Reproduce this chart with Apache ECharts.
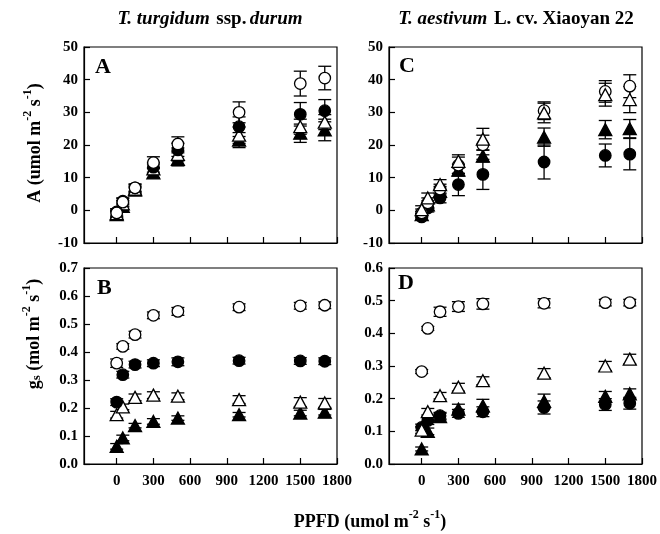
<!DOCTYPE html>
<html>
<head>
<meta charset="utf-8">
<script src="https://cdn.jsdelivr.net/npm/echarts@6/dist/echarts.min.js"></script>
<style>
  html, body { margin: 0; padding: 0; background: #fff; }
  #chart { width: 660px; height: 534px; }
</style>
</head>
<body>
<div id="chart"></div>
<script>
// Light levels (PPFD, umol m-2 s-1)
const ppfd = [0, 50, 150, 300, 500, 1000, 1500, 1700];
const xTicks = [0, 300, 600, 900, 1200, 1500, 1800];

// Panel A: net photosynthesis, T. turgidum ssp. durum
const durumA_openCircle     = [-0.8, 2.5, 6.9, 14.6, 20.3, 30.0, 38.8, 40.5];
const durumA_openCircleErr  = [1.2, 1.2, 1.2, 1.8, 2.2, 3.2, 3.8, 3.6];
const durumA_fillCircle     = [-0.5, 2.8, 6.9, 13.2, 18.5, 25.6, 29.4, 30.5];
const durumA_fillCircleErr  = [1.0, 1.0, 1.0, 1.5, 2.0, 3.0, 3.6, 3.4];
const durumA_openTri        = [-1.0, 2.0, 6.5, 12.7, 17.1, 23.0, 25.6, 27.0];
const durumA_openTriErr     = [1.0, 1.0, 1.0, 1.5, 2.0, 2.5, 2.3, 2.3];
const durumA_fillTri        = [-1.3, 1.2, 6.2, 11.5, 15.6, 21.5, 23.6, 24.6];
const durumA_fillTriErr     = [1.0, 1.0, 1.0, 1.6, 2.0, 2.3, 2.8, 3.3];

// Panel B: stomatal conductance, T. turgidum ssp. durum
const durumG_openCircle     = [0.360, 0.420, 0.462, 0.531, 0.545, 0.560, 0.565, 0.567];
const durumG_openCircleErr  = [0.015, 0.010, 0.012, 0.012, 0.014, 0.012, 0.012, 0.012];
const durumG_fillCircle     = [0.221, 0.319, 0.355, 0.360, 0.365, 0.369, 0.368, 0.367];
const durumG_fillCircleErr  = [0.012, 0.012, 0.012, 0.012, 0.014, 0.012, 0.012, 0.012];
const durumG_openTri        = [0.176, 0.204, 0.238, 0.246, 0.242, 0.230, 0.221, 0.218];
const durumG_openTriErr     = [0.012, 0.010, 0.012, 0.012, 0.012, 0.014, 0.016, 0.016];
const durumG_fillTri        = [0.063, 0.093, 0.137, 0.152, 0.164, 0.176, 0.182, 0.185];
const durumG_fillTriErr     = [0.010, 0.010, 0.008, 0.010, 0.008, 0.008, 0.010, 0.010];

// Panel C: net photosynthesis, T. aestivum cv. Xiaoyan 22
const aestA_openCircle      = [-0.8, 2.3, 6.5, 13.8, 20.0, 30.5, 36.4, 38.0];
const aestA_openCircleErr   = [1.2, 1.5, 1.5, 2.5, 3.0, 2.7, 3.3, 3.5];
const aestA_fillCircle      = [-2.0, 0.7, 3.8, 7.9, 11.0, 14.8, 16.8, 17.2];
const aestA_fillCircleErr   = [1.0, 1.2, 1.5, 3.4, 4.6, 5.2, 3.5, 4.8];
const aestA_openTri         = [0.2, 3.8, 7.9, 15.0, 21.8, 29.8, 35.4, 33.9];
const aestA_openTriErr      = [1.2, 1.5, 1.5, 2.0, 3.3, 3.0, 3.5, 4.0];
const aestA_fillTri         = [-1.3, 1.7, 5.8, 12.3, 16.6, 22.4, 24.7, 25.0];
const aestA_fillTriErr      = [1.0, 1.2, 1.5, 1.8, 1.8, 2.8, 2.8, 2.8];

// Panel D: stomatal conductance, T. aestivum cv. Xiaoyan 22
const aestG_openCircle      = [0.283, 0.415, 0.466, 0.482, 0.490, 0.492, 0.494, 0.494];
const aestG_openCircleErr   = [0.006, 0.006, 0.014, 0.015, 0.016, 0.014, 0.010, 0.010];
const aestG_fillCircle      = [0.112, 0.133, 0.148, 0.155, 0.160, 0.173, 0.182, 0.186];
const aestG_fillCircleErr   = [0.010, 0.012, 0.010, 0.012, 0.015, 0.020, 0.018, 0.018];
const aestG_openTri         = [0.104, 0.160, 0.209, 0.235, 0.255, 0.278, 0.300, 0.321];
const aestG_openTriErr      = [0.010, 0.010, 0.010, 0.012, 0.012, 0.014, 0.014, 0.015];
const aestG_fillTri         = [0.046, 0.100, 0.145, 0.168, 0.178, 0.192, 0.207, 0.215];
const aestG_fillTriErr      = [0.006, 0.010, 0.010, 0.015, 0.020, 0.022, 0.015, 0.015];

const FONT = 'Liberation Serif';
const INK = '#000';

const grids = [
  { left: 84,  top: 47,  width: 253, height: 196 },  // A
  { left: 84,  top: 268, width: 253, height: 196 },  // B
  { left: 389, top: 47,  width: 253, height: 196 },  // C
  { left: 389, top: 268, width: 253, height: 196 }   // D
].map(g => Object.assign({ show: true, borderColor: INK, borderWidth: 1.2, backgroundColor: '#fff' }, g));

function xAxisFor(gridIndex, showLabels) {
  return {
    type: 'value', gridIndex, min: -267, max: 1800,
    axisLine: { show: true, onZero: false, lineStyle: { color: INK, width: 1.2 } },
    axisTick: { show: true, inside: true, length: 6, lineStyle: { color: INK, width: 1.2 }, customValues: xTicks },
    axisLabel: {
      show: showLabels, customValues: xTicks, margin: 10,
      color: INK, fontFamily: FONT, fontWeight: 'bold', fontSize: 15,
      formatter: v => String(v)
    },
    splitLine: { show: false }
  };
}

function yAxisFor(gridIndex, min, max, interval, digits) {
  return {
    type: 'value', gridIndex, min, max, interval,
    axisLine: { show: true, onZero: false, lineStyle: { color: INK, width: 1.2 } },
    axisTick: { show: true, inside: true, length: 6, lineStyle: { color: INK, width: 1.2 } },
    axisLabel: {
      margin: 6, color: INK, fontFamily: FONT, fontWeight: 'bold', fontSize: 15,
      formatter: v => v.toFixed(digits)
    },
    splitLine: { show: false }
  };
}

function errorBars(axisIndex, values, errs) {
  return {
    type: 'custom', xAxisIndex: axisIndex, yAxisIndex: axisIndex, z: 2,
    silent: true,
    data: ppfd.map((x, i) => [x, values[i] - errs[i], values[i] + errs[i]]),
    encode: { x: 0, y: [1, 2] },
    renderItem: (params, api) => {
      const lo = api.coord([api.value(0), api.value(1)]);
      const hi = api.coord([api.value(0), api.value(2)]);
      const hw = 6.5;
      const st = { stroke: INK, lineWidth: 1.3 };
      return {
        type: 'group',
        children: [
          { type: 'line', shape: { x1: lo[0], y1: lo[1], x2: hi[0], y2: hi[1] }, style: st },
          { type: 'line', shape: { x1: lo[0] - hw, y1: lo[1], x2: lo[0] + hw, y2: lo[1] }, style: st },
          { type: 'line', shape: { x1: hi[0] - hw, y1: hi[1], x2: hi[0] + hw, y2: hi[1] }, style: st }
        ]
      };
    }
  };
}

function markers(axisIndex, values, shape, filled, z) {
  return {
    type: 'scatter', xAxisIndex: axisIndex, yAxisIndex: axisIndex, z,
    symbol: shape, symbolSize: shape === 'circle' ? 11.5 : [13, 12],
    itemStyle: { color: filled ? INK : '#fff', borderColor: INK, borderWidth: 1.3, opacity: 1 },
    emphasis: { disabled: true },
    data: ppfd.map((x, i) => [x, values[i]])
  };
}

function panelSeries(axisIndex, sets) {
  const out = [];
  sets.forEach(s => out.push(errorBars(axisIndex, s.v, s.e)));
  sets.forEach((s, k) => out.push(markers(axisIndex, s.v, s.shape, s.filled, 10 + k)));
  return out;
}

const series = [].concat(
  panelSeries(0, [
    { v: durumA_fillTri, e: durumA_fillTriErr, shape: 'triangle', filled: true },
    { v: durumA_openTri, e: durumA_openTriErr, shape: 'triangle', filled: false },
    { v: durumA_fillCircle, e: durumA_fillCircleErr, shape: 'circle', filled: true },
    { v: durumA_openCircle, e: durumA_openCircleErr, shape: 'circle', filled: false }
  ]),
  panelSeries(1, [
    { v: durumG_fillTri, e: durumG_fillTriErr, shape: 'triangle', filled: true },
    { v: durumG_openTri, e: durumG_openTriErr, shape: 'triangle', filled: false },
    { v: durumG_fillCircle, e: durumG_fillCircleErr, shape: 'circle', filled: true },
    { v: durumG_openCircle, e: durumG_openCircleErr, shape: 'circle', filled: false }
  ]),
  panelSeries(2, [
    { v: aestA_fillCircle, e: aestA_fillCircleErr, shape: 'circle', filled: true },
    { v: aestA_fillTri, e: aestA_fillTriErr, shape: 'triangle', filled: true },
    { v: aestA_openCircle, e: aestA_openCircleErr, shape: 'circle', filled: false },
    { v: aestA_openTri, e: aestA_openTriErr, shape: 'triangle', filled: false }
  ]),
  panelSeries(3, [
    { v: aestG_fillCircle, e: aestG_fillCircleErr, shape: 'circle', filled: true },
    { v: aestG_fillTri, e: aestG_fillTriErr, shape: 'triangle', filled: true },
    { v: aestG_openTri, e: aestG_openTriErr, shape: 'triangle', filled: false },
    { v: aestG_openCircle, e: aestG_openCircleErr, shape: 'circle', filled: false }
  ])
);

// Rich-text styles shared by titles and axis names
const txt = { fontFamily: FONT, fontWeight: 'bold', fill: INK };
const supRich = {
  n:   { fontFamily: FONT, fontWeight: 'bold', fontSize: 18, lineHeight: 22, verticalAlign: 'bottom', fill: INK, color: INK },
  sub: { fontFamily: FONT, fontWeight: 'bold', fontSize: 13, lineHeight: 17, verticalAlign: 'bottom', fill: INK, color: INK },
  sup: { fontFamily: FONT, fontWeight: 'bold', fontSize: 12, lineHeight: 14, verticalAlign: 'top', fill: INK, color: INK }
};
const titleRich = {
  i: { fontFamily: FONT, fontWeight: 'bold', fontStyle: 'italic', fontSize: 19, fill: INK, color: INK },
  n: { fontFamily: FONT, fontWeight: 'bold', fontSize: 19, fill: INK, color: INK }
};

function panelLetter(ch, x, y) {
  return { type: 'text', x, y, z: 100,
    style: Object.assign({ text: ch, fontSize: 22, align: 'left', verticalAlign: 'top' }, txt) };
}

const graphic = [
  { type: 'text', x: 210, y: 19, z: 100,
    style: { text: '{i|T. turgidum}  {n|ssp.} {i|durum}', rich: titleRich, align: 'center', verticalAlign: 'middle' } },
  { type: 'text', x: 516, y: 19, z: 100,
    style: { text: '{i|T. aestivum}  {n|L. cv. Xiaoyan 22}', rich: titleRich, align: 'center', verticalAlign: 'middle' } },
  panelLetter('A', 95, 56),
  panelLetter('B', 97, 277),
  panelLetter('C', 399, 55),
  panelLetter('D', 398, 272),
  { type: 'text', x: 33, y: 143, rotation: Math.PI / 2, z: 100,
    style: { text: '{n|A (umol m}{sup|-2}{n| s}{sup|-1}{n|)}', rich: supRich, align: 'center', verticalAlign: 'middle' } },
  { type: 'text', x: 32, y: 334, rotation: Math.PI / 2, z: 100,
    style: { text: '{n|g}{sub|s}{n| (mol m}{sup|-2}{n| s}{sup|-1}{n|)}', rich: supRich, align: 'center', verticalAlign: 'middle' } },
  { type: 'text', x: 370, y: 520, z: 100,
    style: { text: '{n|PPFD (umol m}{sup|-2}{n| s}{sup|-1}{n|)}', rich: supRich, align: 'center', verticalAlign: 'middle' } }
];

const chart = echarts.init(document.getElementById('chart'), null, { renderer: 'canvas' });
chart.setOption({
  animation: false,
  backgroundColor: '#fff',
  grid: grids,
  xAxis: [xAxisFor(0, false), xAxisFor(1, true), xAxisFor(2, false), xAxisFor(3, true)],
  yAxis: [
    yAxisFor(0, -10, 50, 10, 0),
    yAxisFor(1, 0, 0.7, 0.1, 1),
    yAxisFor(2, -10, 50, 10, 0),
    yAxisFor(3, 0, 0.6, 0.1, 1)
  ],
  series,
  graphic
});
</script>
</body>
</html>
